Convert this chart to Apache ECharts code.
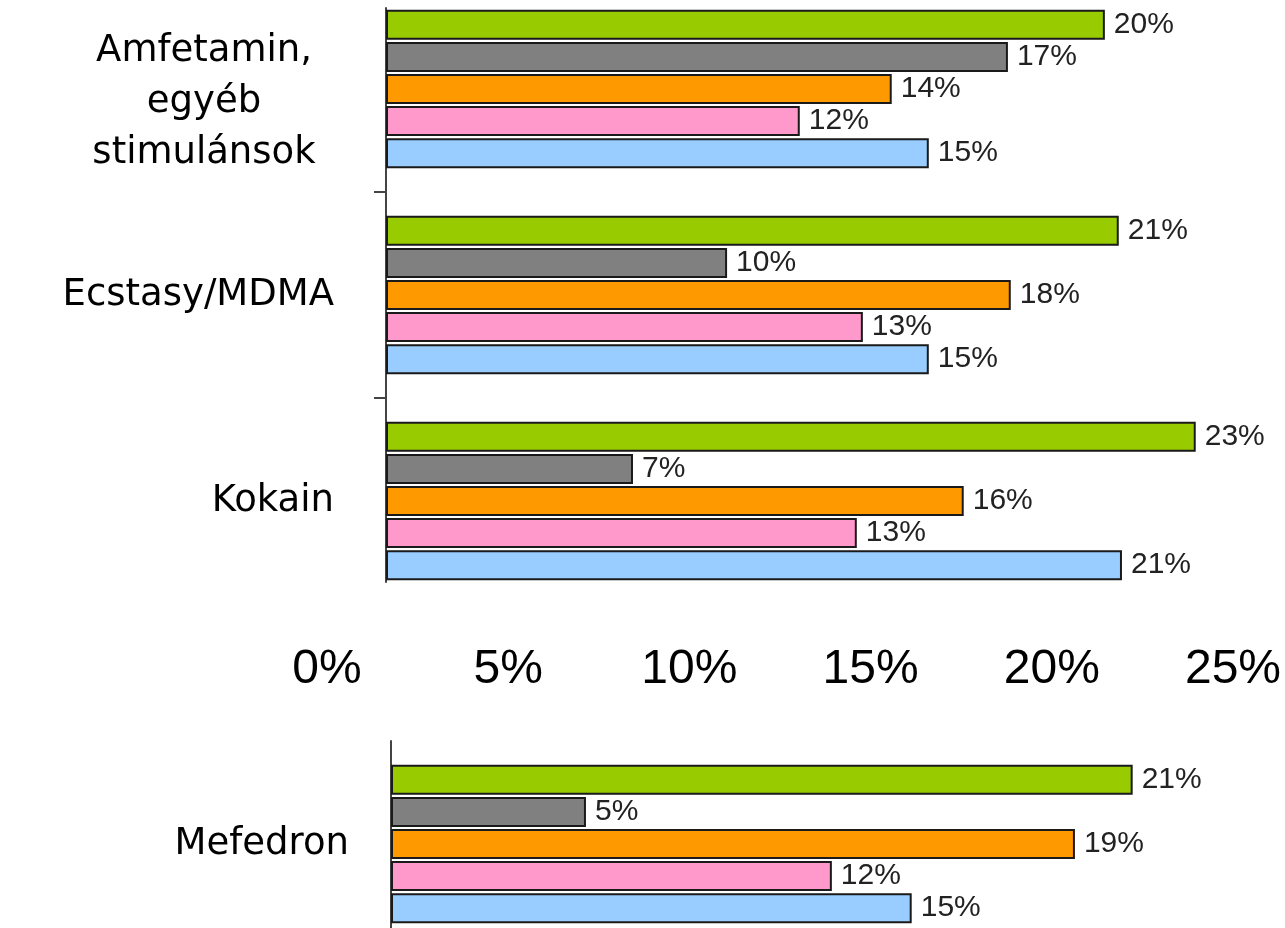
<!DOCTYPE html>
<html>
<head>
<meta charset="utf-8">
<script src="https://cdn.jsdelivr.net/npm/echarts@6/dist/echarts.min.js"></script>
<style>
  html, body { margin: 0; padding: 0; background: #fff; }
  #chart { width: 1285px; height: 928px; }
</style>
</head>
<body>
<div id="chart"></div>
<script>
// categories
const categories = ['Amfetamin,\negyéb\nstimulánsok', 'Ecstasy/MDMA', 'Kokain']
const mefCategory = ['Mefedron']
const seriesNames = ['Sorozat1', 'Sorozat2', 'Sorozat3', 'Sorozat4', 'Sorozat5']
const colors = ['#99cc00', '#808080', '#ff9900', '#ff99cc', '#99ccff']

// values (%), top chart
const green = [20.17, 20.56, 22.72]
const gray = [17.45, 9.57, 6.93]
const orange = [14.19, 17.53, 16.21]
const pink = [11.61, 13.38, 13.21]
const blue = [15.23, 15.23, 20.65]
// Mefedron chart
const mefGreen = [20.81]
const mefGray = [5.47]
const mefOrange = [19.19]
const mefPink = [12.37]
const mefBlue = [14.61]

// tick labels
const xTicks = [0, 5, 10, 15, 20, 25]

const topData = [green, gray, orange, pink, blue]
const mefData = [mefGreen, mefGray, mefOrange, mefPink, mefBlue]

const catFont = 'DejaVu Sans'
const valFont = 'Liberation Sans'

function makeSeries(dataList, axisIndex) {
    return dataList.map((d, i) => ({
        name: seriesNames[i],
        type: 'bar',
        xAxisIndex: axisIndex,
        yAxisIndex: axisIndex,
        data: d,
        barWidth: 30,
        barGap: '7%',
        itemStyle: {
            color: colors[i],
            borderColor: '#1a1a1a',
            borderWidth: 2
        },
        label: {
            show: true,
            position: 'right',
            distance: 9,
            fontFamily: valFont,
            fontSize: 30,
            color: '#222',
            formatter: p => Math.round(p.value) + '%'
        }
    }))
}

const hiddenX = {type: 'value', show: false, min: 0, max: 1}

let chart = echarts.init(document.getElementById('chart'))
chart.setOption({
    animation: false,
    backgroundColor: '#fff',
    grid: [
        {left: 386, right: 8, top: -14, height: 618, outerBoundsMode: 'none', containLabel: false},
        {left: 391, right: 3, top: 741, height: 206, outerBoundsMode: 'none', containLabel: false},
        {left: 327, width: 906, top: 628, height: 10, outerBoundsMode: 'none', containLabel: false},
        // shorter vertical axis line of the top chart, in category units
        {left: 386, right: 8, top: 8, height: 574, outerBoundsMode: 'none', containLabel: false}
    ],
    xAxis: [
        {gridIndex: 0, type: 'value', min: 0, max: 25, interval: 5,
            axisLine: {show: false}, axisTick: {show: false}, axisLabel: {show: false}, splitLine: {show: false}},
        {gridIndex: 1, type: 'value', min: 0, max: 25, interval: 5,
            axisLine: {show: false}, axisTick: {show: false}, axisLabel: {show: false}, splitLine: {show: false}},
        {gridIndex: 2, type: 'value', min: 0, max: 25, interval: 5,
            axisLine: {show: false}, axisTick: {show: false}, splitLine: {show: false},
            axisLabel: {
                margin: 8,
                fontFamily: valFont,
                fontSize: 48,
                color: '#000',
                customValues: xTicks,
                formatter: v => v + '%'
            }},
        Object.assign({gridIndex: 3}, hiddenX)
    ],
    yAxis: [
        {gridIndex: 0, type: 'category', data: categories, inverse: true,
            axisLine: {show: false},
            axisTick: {show: false},
            axisLabel: {
                margin: 52,
                fontFamily: catFont,
                fontSize: 37,
                color: '#000',
                align: 'right',
                formatter: v => v.indexOf('\n') >= 0 ? '{c|' + v + '}' : v,
                rich: {
                    c: {width: 260, align: 'center', fontFamily: catFont, fontSize: 37, lineHeight: 51, color: '#000', padding: [26, 0, 0, 0]}
                }
            }},
        {gridIndex: 1, type: 'category', data: mefCategory, inverse: true,
            axisLine: {show: true, lineStyle: {color: '#444', width: 2}},
            axisTick: {show: false},
            axisLabel: {margin: 42, fontFamily: catFont, fontSize: 37, color: '#000'}},
        {gridIndex: 2, type: 'value', show: false},
        {gridIndex: 3, type: 'value', inverse: true, min: 0.107, max: 2.893,
            axisLine: {show: true, lineStyle: {color: '#444', width: 2}},
            axisTick: {show: true, length: 12, customValues: [1, 2], lineStyle: {color: '#444', width: 2}},
            axisLabel: {show: false},
            splitLine: {show: false}}
    ],
    series: makeSeries(topData, 0).concat(makeSeries(mefData, 1))
})
</script>
</body>
</html>
